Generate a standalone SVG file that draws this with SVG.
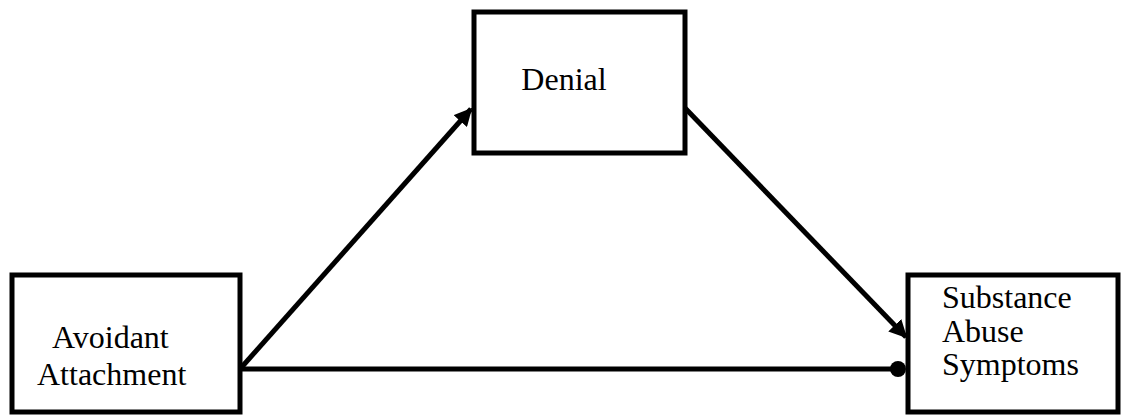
<svg xmlns="http://www.w3.org/2000/svg" width="1123" height="420" viewBox="0 0 1123 420">
  <style>
    .box { fill: #fff; stroke: #000; stroke-width: 5; }
    .lbl { font-family: "Liberation Serif", "Times New Roman", serif; font-size: 32px; fill: #000; }
    .edge { stroke: #000; stroke-width: 5; fill: none; }
  </style>
  <defs>
    <marker id="arrow" viewBox="0 0 10 10" refX="9" refY="5" markerWidth="3.6" markerHeight="3.6" orient="auto" markerUnits="strokeWidth">
      <path d="M0,0 L10,5 L0,10 z" fill="#000"/>
    </marker>
  </defs>
  <rect width="1123" height="420" fill="#fff"/>

  <g id="connectors">
    <line class="edge" x1="240" y1="369" x2="471" y2="109" marker-end="url(#arrow)"/>
    <line class="edge" x1="685" y1="108" x2="906" y2="337" marker-end="url(#arrow)"/>
    <line class="edge" x1="240" y1="369" x2="897" y2="369"/>
    <circle cx="898" cy="369" r="8" fill="#000"/>
  </g>

  <g id="avoidant">
    <rect class="box" x="12" y="275" width="228" height="137"/>
    <text class="lbl" x="52" y="348">Avoidant</text>
    <text class="lbl" x="37" y="385">Attachment</text>
  </g>

  <g id="denial">
    <rect class="box" x="474" y="12" width="211" height="141"/>
    <text class="lbl" x="564" y="90" text-anchor="middle">Denial</text>
  </g>

  <g id="substance">
    <rect class="box" x="908" y="275" width="210" height="137"/>
    <text class="lbl" x="942" y="308">Substance</text>
    <text class="lbl" x="942" y="342">Abuse</text>
    <text class="lbl" x="942" y="375">Symptoms</text>
  </g>
</svg>
